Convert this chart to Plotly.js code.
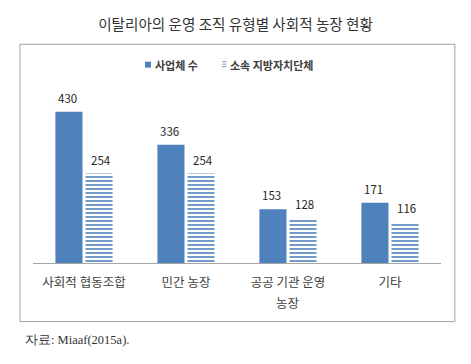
<!DOCTYPE html>
<html><head><meta charset="utf-8">
<script src="https://cdn.plot.ly/plotly-3.0.1.min.js"></script>
<style>body{margin:0;padding:0;background:#fff;}#c{width:471px;height:364px;}</style>
</head><body><div id="c"></div>
<script>
const categories = ["사회적 협동조합", "민간 농장", "공공 기관 운영<br>농장", "기타"];
const seriesNames = ["사업체 수", "소속 지방자치단체"];
const enterprises = [430, 336, 153, 171];
const municipalities = [254, 254, 128, 116];
const titleText = "이탈리아의 운영 조직 유형별 사회적 농장 현황";
const sourceText = "자료: Miaaf(2015a).";

const blue = "#4f81bd";
const font = "Noto Sans CJK KR, sans-serif";

const traces = [
  {type: "bar", name: seriesNames[0], x: categories, y: enterprises,
   marker: {color: blue, line: {width: 0}}, hoverinfo: "none"},
  {type: "bar", name: seriesNames[1], x: categories, y: municipalities,
   marker: {color: "white", line: {width: 0},
            pattern: {shape: "-", fgcolor: blue, bgcolor: "white", size: 4, solidity: 0.4}},
   hoverinfo: "none"}
];

// pixel -> paper helpers (plot area: x 33..441, y 86..263)
const px = v => (v - 33) / 408;
const py = v => (263 - v) / 177;

const annotations = [];
[enterprises, municipalities].forEach((vals, s) => {
  vals.forEach((v, i) => {
    annotations.push({x: i, y: v, xref: "x", yref: "y", text: String(v), showarrow: false,
      xshift: s === 0 ? -16.5 : 16.5, yshift: 14, font: {family: font, size: 11.5, color: "#262626"}});
  });
});
// second lines of wrapped category labels (wider line spacing like the reference)
categories.forEach((c, i) => {
  const parts = c.split("<br>");
  parts.slice(1).forEach((p, k) => {
    annotations.push({x: categories[i], xref: "x", yref: "paper", y: py(303 + 20 * k), yanchor: "middle",
      text: p, showarrow: false, font: {family: font, size: 12.5, color: "#404040"}});
  });
});
// legend texts
annotations.push({xref: "paper", yref: "paper", x: px(153), y: py(63.5), xanchor: "left", yanchor: "middle",
  text: seriesNames[0], showarrow: false, font: {family: font, size: 11, color: "#404040", weight: "bold"}});
annotations.push({xref: "paper", yref: "paper", x: px(228), y: py(63.5), xanchor: "left", yanchor: "middle",
  text: seriesNames[1], showarrow: false, font: {family: font, size: 11, color: "#404040", weight: "bold"}});
annotations.push({xref: "paper", yref: "paper", x: -0.025, y: -0.44, xanchor: "left", yanchor: "middle",
  text: sourceText, showarrow: false, font: {family: "Liberation Serif, serif", size: 12.5, color: "#333"}});

const shapes = [
  {type: "rect", xref: "paper", yref: "paper", x0: -0.032, x1: 1.034, y0: -0.333, y1: 1.243,
   line: {color: "#a0a0a0", width: 1}, fillcolor: "rgba(0,0,0,0)", layer: "below"},
  {type: "rect", xref: "paper", yref: "paper", x0: px(145), x1: px(151), y0: py(66.5), y1: py(60.5),
   line: {width: 0}, fillcolor: blue}
];
[60.5, 63, 65.5].forEach(yy => shapes.push({type: "line", xref: "paper", yref: "paper",
  x0: px(222), x1: px(226.5), y0: py(yy), y1: py(yy), line: {color: "#7f9fcf", width: 1}}));

const layout = {
  width: 471, height: 364,
  margin: {l: 33, r: 30, t: 87, b: 101},
  paper_bgcolor: "white", plot_bgcolor: "white",
  title: {text: titleText, x: 0.5, xanchor: "center", y: 1 - 25/364, yanchor: "middle",
          font: {family: font, size: 14.6, color: "#333"}},
  barmode: "group", bargap: 0.41, bargroupgap: 0.1,
  showlegend: false,
  xaxis: {showline: true, linecolor: "#a6a6a6", linewidth: 1, ticks: "", range: [-0.5, 3.5],
          ticklabelstandoff: 8,
          tickvals: categories, ticktext: categories.map(c => c.split("<br>")[0]),
          tickfont: {family: font, size: 12.5, color: "#404040"}, fixedrange: true},
  yaxis: {range: [0, 500], showgrid: false, zeroline: false, showticklabels: false, showline: false, fixedrange: true},
  shapes: shapes,
  annotations: annotations
};
Plotly.newPlot("c", traces, layout, {staticPlot: true, displayModeBar: false});
</script></body></html>
